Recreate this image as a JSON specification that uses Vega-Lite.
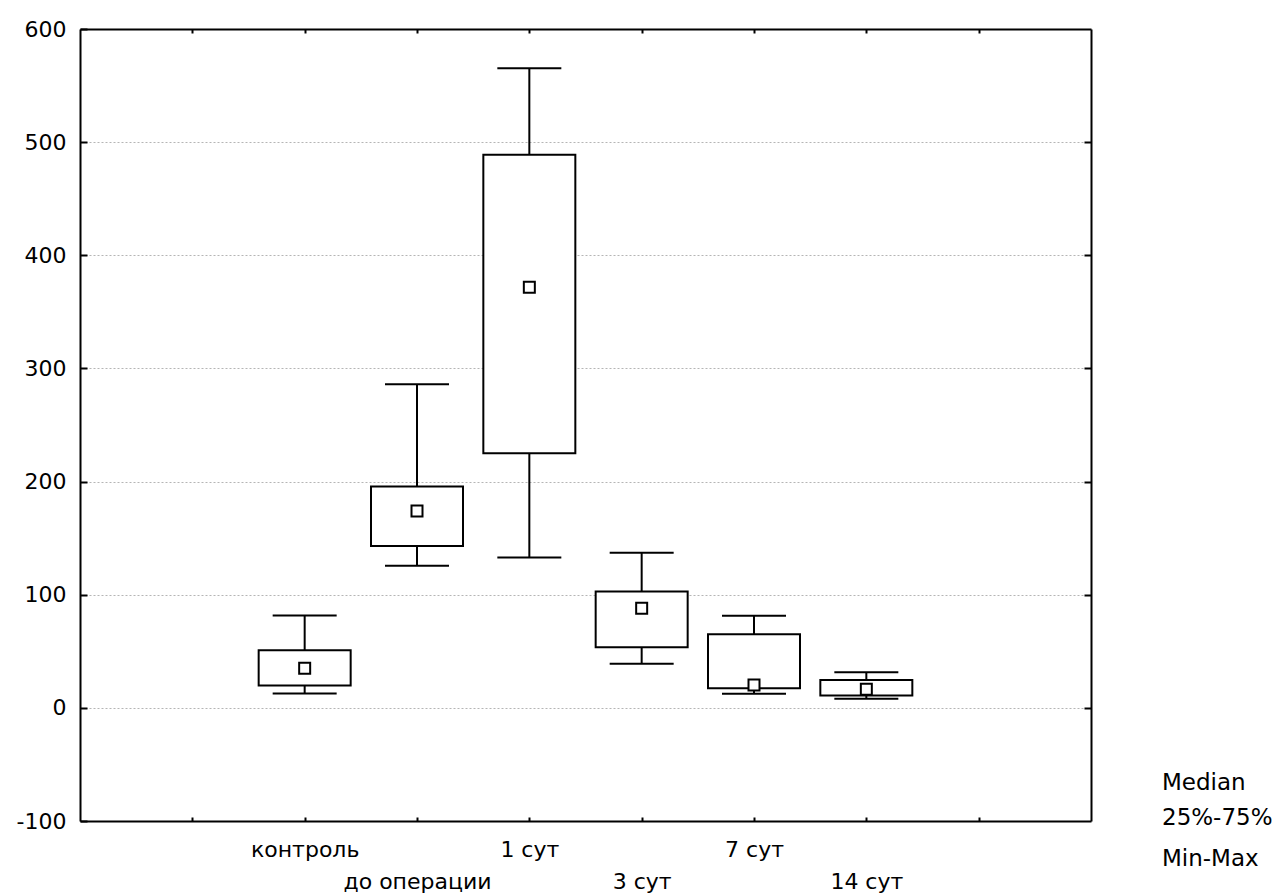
{
  "$schema": "https://vega.github.io/schema/vega-lite/v6.json",
  "autosize": "none",
  "padding": {"left": 80, "top": 29, "right": 191, "bottom": 74},
  "width": 1011,
  "height": 792,
  "background": "white",
  "config": {
    "view": {"stroke": null},
    "font": "DejaVu Sans",
    "axis": {"labelFont": "DejaVu Sans", "labelColor": "black", "labelFontSize": 22, "tickColor": "black", "tickWidth": 2,
      "domain": true, "domainColor": "black", "domainWidth": 2}
  },
  "data": {
    "values": [
      {"group": "контроль", "min": 12.6, "q1": 19.7, "median": 35, "q3": 51, "max": 81.6},
      {"group": "до операции", "min": 125.5, "q1": 143, "median": 174, "q3": 195.6, "max": 286},
      {"group": "1 сут", "min": 132.8, "q1": 225, "median": 371.8, "q3": 488.8, "max": 565.4},
      {"group": "3 сут", "min": 38.9, "q1": 53.6, "median": 88, "q3": 102.8, "max": 137},
      {"group": "7 сут", "min": 12.4, "q1": 17.4, "median": 20.3, "q3": 65, "max": 81.3},
      {"group": "14 сут", "min": 8, "q1": 10.9, "median": 16.5, "q3": 24.7, "max": 31.5}
    ]
  },
  "resolve": {"axis": {"x": "independent", "y": "independent"}},
  "layer": [
    {
      "mark": {"type": "rule", "color": "black", "strokeWidth": 2},
      "encoding": {
        "x": {"field": "group", "type": "nominal", "sort": null,
          "scale": {"type": "point", "domain": [" ", "контроль", "до операции", "1 сут", "3 сут", "7 сут", "14 сут", "  "], "padding": 1},
          "axis": {"orient": "bottom", "title": null, "labelAngle": 0, "tickSize": -4, "labelPadding": 22, "labelLineHeight": 32, "labelBaseline": "top",
            "labelExpr": "(datum.value == 'до операции' || datum.value == '3 сут' || datum.value == '14 сут') ? ['', datum.value] : datum.value"}},
        "y": {"field": "min", "type": "quantitative",
          "scale": {"domain": [-100, 600], "nice": false, "zero": false},
          "axis": {"orient": "left", "title": null, "values": [-100, 0, 100, 200, 300, 400, 500, 600], "tickSize": -7, "labelPadding": 21, "grid": false,
            "labelExpr": "datum.value < 0 ? '-' + abs(datum.value) : datum.label"}},
        "y2": {"field": "max"}
      }
    },
    {
      "mark": {"type": "tick", "color": "black", "thickness": 2, "size": 64, "opacity": 1},
      "encoding": {
        "x": {"field": "group", "type": "nominal", "sort": null,
          "axis": {"orient": "top", "title": null, "labels": false, "tickSize": -4}},
        "y": {"field": "min", "type": "quantitative",
          "axis": {"orient": "right", "title": null, "labels": false, "values": [0, 100, 200, 300, 400, 500], "tickSize": -7,
            "grid": true, "gridColor": "#b5b5b5", "gridDash": [2, 2], "gridWidth": 1}}
      }
    },
    {
      "mark": {"type": "tick", "color": "black", "thickness": 2, "size": 64, "opacity": 1},
      "encoding": {
        "x": {"field": "group", "type": "nominal", "sort": null, "axis": null},
        "y": {"field": "max", "type": "quantitative", "axis": null}
      }
    },
    {
      "mark": {"type": "bar", "fill": "white", "stroke": "black", "strokeWidth": 2, "size": 92},
      "encoding": {
        "x": {"field": "group", "type": "nominal", "sort": null, "axis": null},
        "y": {"field": "q1", "type": "quantitative", "axis": null},
        "y2": {"field": "q3"}
      }
    },
    {
      "mark": {"type": "point", "filled": true, "fill": "white", "stroke": "black", "strokeWidth": 2, "size": 1936, "opacity": 1},
      "encoding": {
        "x": {"field": "group", "type": "nominal", "sort": null, "axis": null},
        "y": {"field": "median", "type": "quantitative", "axis": null},
        "shape": {"datum": "Median",
          "scale": {"domain": ["Median", "25%-75%", "Min-Max"],
            "range": ["M-0.25,-0.25L0.25,-0.25L0.25,0.25L-0.25,0.25Z", "M-0.98,-0.61L0.98,-0.61L0.98,0.61L-0.98,0.61Z", "M-0.93,-0.59L0.93,-0.59M0,-0.59L0,0.59M-0.93,0.59L0.93,0.59"]},
          "legend": {"title": null, "orient": "none", "legendX": 1024, "legendY": 731, "symbolSize": 1936, "symbolStrokeWidth": 2,
            "symbolStrokeColor": "black", "symbolFillColor": "white", "symbolOpacity": 1, "labelFont": "DejaVu Sans", "labelFontSize": 23, "labelColor": "black",
            "labelOffset": 12, "rowPadding": 0,
            "encode": {"symbols": {
              "shape": {"signal": "datum.value == 'Median' ? 'M-0.25,-0.25L0.25,-0.25L0.25,0.25L-0.25,0.25Z' : (datum.value == '25%-75%' ? 'M-0.98,-0.61L0.98,-0.61L0.98,0.61L-0.98,0.61Z' : 'M-0.93,-0.59L0.93,-0.59M0,-0.59L0,0.59M-0.93,0.59L0.93,0.59')"},
              "size": {"value": 1936},
              "stroke": {"value": "black"}, "fill": {"value": "white"}, "strokeWidth": {"value": 2},
              "opacity": {"value": 1}, "fillOpacity": {"value": 1}, "strokeOpacity": {"value": 1}}}}}
      }
    }
  ]
}
